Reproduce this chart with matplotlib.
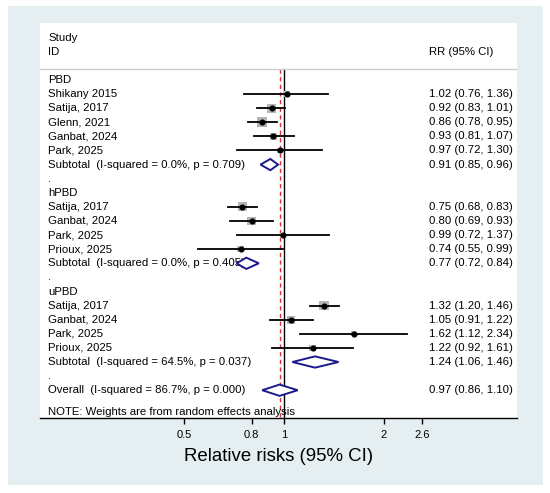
import numpy as np
import matplotlib
matplotlib.use("Agg")
import matplotlib.pyplot as plt
from matplotlib.patches import Polygon, Rectangle
from matplotlib.transforms import blended_transform_factory

plt.rcParams['font.family'] = ['Liberation Sans', 'DejaVu Sans']

# study level data, per subgroup
groups = ["PBD", "hPBD", "uPBD"]
studies = [
    ["Shikany 2015", "Satija, 2017", "Glenn, 2021", "Ganbat, 2024", "Park, 2025"],
    ["Satija, 2017", "Ganbat, 2024", "Park, 2025", "Prioux, 2025"],
    ["Satija, 2017", "Ganbat, 2024", "Park, 2025", "Prioux, 2025"],
]
rr = [
    [1.02, 0.92, 0.86, 0.93, 0.97],
    [0.75, 0.80, 0.99, 0.74],
    [1.32, 1.05, 1.62, 1.22],
]
lower = [
    [0.76, 0.83, 0.78, 0.81, 0.72],
    [0.68, 0.69, 0.72, 0.55],
    [1.20, 0.91, 1.12, 0.92],
]
upper = [
    [1.36, 1.01, 0.95, 1.07, 1.30],
    [0.83, 0.93, 1.37, 0.99],
    [1.46, 1.22, 2.34, 1.61],
]
# approximate weights (%)
weights = [
    [3.3, 7.8, 9.0, 5.8, 2.6],
    [7.8, 7.8, 2.6, 4.0],
    [9.0, 6.8, 2.6, 4.0],
]
sub_rr = [0.91, 0.77, 1.24]
sub_lo = [0.85, 0.72, 1.06]
sub_hi = [0.96, 0.84, 1.46]
sub_i2 = ["0.0", "0.0", "64.5"]
sub_p = ["0.709", "0.405", "0.037"]
overall = (0.97, 0.86, 1.10)
overall_i2 = "86.7"
overall_p = "0.000"
xticks = [0.5, 0.8, 1, 2, 2.6]
xticklabels = ["0.5", "0.8", "1", "2", "2.6"]

W, H = 550, 493
fig = plt.figure(figsize=(W / 100, H / 100), dpi=100, facecolor="white")
fig.patches.append(Rectangle((8 / W, 1 - 485 / H), 535 / W, 479 / H,
                             transform=fig.transFigure, facecolor="#e5eff2",
                             edgecolor="none", zorder=-5))

ax = fig.add_axes([40 / W, 1 - 418 / H, 477 / W, 395 / H])
ax.set_facecolor("white")
ax.set_xscale("log")
ax.set_xlim(0.1843, 5.03)
ax.set_ylim(23.97, -4.04)

for s in ["top", "left", "right"]:
    ax.spines[s].set_visible(False)
ax.spines["bottom"].set_linewidth(1.0)
ax.set_yticks([])
ax.set_xticks(xticks)
ax.set_xticklabels(xticklabels)
ax.xaxis.set_minor_locator(matplotlib.ticker.NullLocator())
ax.tick_params(axis="x", direction="out", length=4, width=1, pad=4.5, labelsize=8)
ax.set_xlabel("Relative risks (95% CI)", fontsize=13.4, labelpad=6)

tr = blended_transform_factory(ax.transAxes, ax.transData)
fs = 8.2
lab_x = 0.0168
ci_x = 0.8155
navy = "#1a1a8a"

ax.text(lab_x, -2.98, "Study", transform=tr, fontsize=fs, va="center")
ax.text(lab_x, -1.99, "ID", transform=tr, fontsize=fs, va="center")
ax.text(ci_x, -1.99, "RR (95% CI)", transform=tr, fontsize=fs, va="center")
ax.axhline(-0.78, color="#cfcfcf", lw=1.0)


def diamond(y, est, lo, hi):
    h = 0.4
    ax.add_patch(Polygon([(lo, y), (est, y - h), (hi, y), (est, y + h)],
                         closed=True, facecolor="white", edgecolor=navy,
                         lw=1.4, zorder=4))


row = 0
for g in range(len(groups)):
    ax.text(lab_x, row, groups[g], transform=tr, fontsize=fs, va="center")
    row += 1
    for name, est, lo, hi, w in zip(studies[g], rr[g], lower[g], upper[g], weights[g]):
        ax.text(lab_x, row, name, transform=tr, fontsize=fs, va="center")
        ax.text(ci_x, row, f"{est:.2f} ({lo:.2f}, {hi:.2f})", transform=tr,
                fontsize=fs, va="center")
        side = 3.2 * np.sqrt(w) * 0.72
        ax.scatter([est], [row], marker="s", s=side ** 2, color="#b5b5b5",
                   edgecolors="none", zorder=2)
        ax.plot([lo, hi], [row, row], color="black", lw=1.3, zorder=3)
        ax.plot([est], [row], "o", color="black", ms=3.4, zorder=5)
        row += 1
    ax.text(lab_x, row, f"Subtotal  (I-squared = {sub_i2[g]}%, p = {sub_p[g]})",
            transform=tr, fontsize=fs, va="center")
    ax.text(ci_x, row, f"{sub_rr[g]:.2f} ({sub_lo[g]:.2f}, {sub_hi[g]:.2f})",
            transform=tr, fontsize=fs, va="center")
    diamond(row, sub_rr[g], sub_lo[g], sub_hi[g])
    row += 1
    ax.text(lab_x, row, ".", transform=tr, fontsize=fs, va="center")
    row += 1

ax.text(lab_x, row, f"Overall  (I-squared = {overall_i2}%, p = {overall_p})",
        transform=tr, fontsize=fs, va="center")
ax.text(ci_x, row, f"{overall[0]:.2f} ({overall[1]:.2f}, {overall[2]:.2f})",
        transform=tr, fontsize=fs, va="center")
diamond(row, *overall)
ax.text(lab_x, row + 1.55, "NOTE: Weights are from random effects analysis",
        transform=tr, fontsize=fs, va="center")

ax.plot([1, 1], [-0.78, 23.97], color="black", lw=1.0, zorder=1)
ax.plot([overall[0], overall[0]], [-0.78, 23.97], color="#d6303a", lw=1.0,
        ls=(0, (3, 2.5)), zorder=1)

fig.savefig("out.png", dpi=100, facecolor="white")
